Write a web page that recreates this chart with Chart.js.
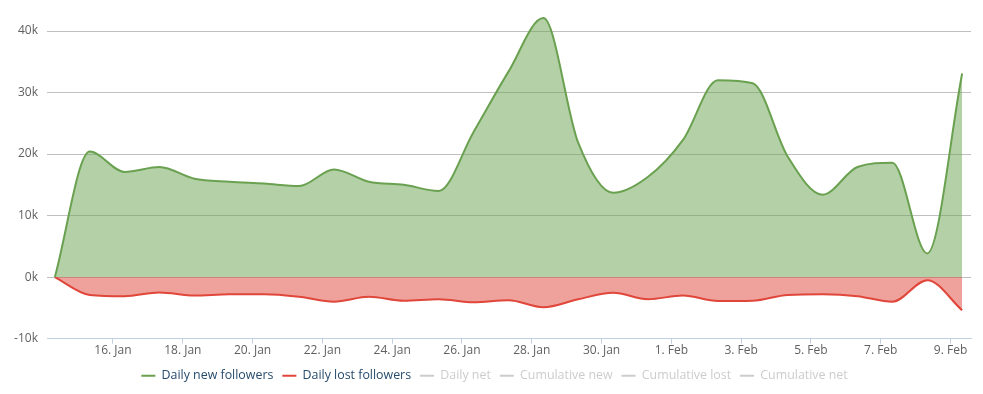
<!DOCTYPE html>
<html>
<head>
<meta charset="utf-8">
<script src="https://cdn.jsdelivr.net/npm/chart.js@4/dist/chart.umd.min.js"></script>
<style>
html,body{margin:0;padding:0;background:#fff;}
#wrap{width:983px;height:394px;}
</style>
</head>
<body>
<div id="wrap"><canvas id="c" width="983" height="394"></canvas></div>
<script>
// ---- data ----
const pointTimes = [
  '2015-01-14T08:00','2015-01-15T08:00','2015-01-16T08:00','2015-01-17T08:00','2015-01-18T08:00',
  '2015-01-19T08:00','2015-01-20T08:00','2015-01-21T08:00','2015-01-22T08:00','2015-01-23T08:00',
  '2015-01-24T08:00','2015-01-25T08:00','2015-01-26T08:00','2015-01-27T08:00','2015-01-28T08:00',
  '2015-01-29T08:00','2015-01-30T08:00','2015-01-31T08:00','2015-02-01T08:00','2015-02-02T08:00',
  '2015-02-03T08:00','2015-02-04T08:00','2015-02-05T08:00','2015-02-06T08:00','2015-02-07T08:00',
  '2015-02-08T08:00','2015-02-09T08:00'
];
const newFollowers = [0, 20400, 17100, 17900, 16000, 15500, 15200, 14800, 17500, 15500,
  15000, 14000, 23600, 33400, 42100, 21800, 13700, 16300, 22300, 32000,
  31500, 19600, 13400, 17900, 18600, 3850, 33100];
const lostFollowers = [0, -2900, -3100, -2500, -3000, -2800, -2800, -3200, -4000, -3200,
  -3850, -3600, -4100, -3750, -4900, -3600, -2550, -3600, -3000, -3900,
  -3850, -2900, -2800, -3100, -4000, -500, -5400];
const tickDates = ['2015-01-16','2015-01-18','2015-01-20','2015-01-22','2015-01-24','2015-01-26',
  '2015-01-28','2015-01-30','2015-02-01','2015-02-03','2015-02-05','2015-02-07','2015-02-09'];
const tickLabels = ['16. Jan','18. Jan','20. Jan','22. Jan','24. Jan','26. Jan','28. Jan',
  '30. Jan','1. Feb','3. Feb','5. Feb','7. Feb','9. Feb'];
const yTicks = [-10000, 0, 10000, 20000, 30000, 40000];
const seriesNames = ['Daily new followers','Daily lost followers','Daily net',
  'Cumulative new','Cumulative lost','Cumulative net'];

// ---- helpers ----
const EPOCH = Date.UTC(2015, 0, 0);
const toDay = s => (Date.parse(s + (s.length > 10 ? 'Z' : 'T00:00Z')) - EPOCH) / 86400000;
const xs = pointTimes.map(toDay);
const tickValues = tickDates.map(toDay);
const FONT = '"Open Sans", "Lucida Grande", "DejaVu Sans", sans-serif';

const GREEN = '#6aa150', RED = '#e0463a', HIDDEN = '#cccccc';

const datasets = [
  {label: seriesNames[0], data: xs.map((x,i)=>({x, y:newFollowers[i]})),
   borderColor: GREEN, backgroundColor: 'rgba(106,161,80,0.5)', fill: 'origin'},
  {label: seriesNames[1], data: xs.map((x,i)=>({x, y:lostFollowers[i]})),
   borderColor: RED, backgroundColor: 'rgba(224,70,58,0.5)', fill: 'origin'},
  {label: seriesNames[2], data: [], hidden: true, borderColor: HIDDEN},
  {label: seriesNames[3], data: [], hidden: true, borderColor: HIDDEN},
  {label: seriesNames[4], data: [], hidden: true, borderColor: HIDDEN},
  {label: seriesNames[5], data: [], hidden: true, borderColor: HIDDEN}
].map(d => Object.assign({borderWidth: 2, pointRadius: 0, pointHoverRadius: 0,
  cubicInterpolationMode: 'monotone', clip: 4}, d));

const legendShift = {
  id: 'legendShift',
  afterLayout(chart) { if (chart.legend) { chart.legend.left += 9; chart.legend.right += 9; } }
};

new Chart(document.getElementById('c'), {
  type: 'line',
  data: {datasets},
  plugins: [legendShift],
  options: {
    responsive: false,
    animation: false,
    layout: {padding: {left: 0, right: 12, top: 8, bottom: 2}},
    scales: {
      x: {
        type: 'linear',
        min: 14.109, max: 40.587,
        afterBuildTicks: s => { s.ticks = tickValues.map(v => ({value: v})); },
        afterFit: s => { s.height = 22; s.paddingLeft = 0; s.paddingRight = 0; },
        ticks: {
          callback: v => tickLabels[tickValues.indexOf(v)],
          color: '#606060', font: {family: FONT, size: 12},
          padding: 0, maxRotation: 0, autoSkip: false
        },
        grid: {drawOnChartArea: false, drawTicks: true, tickLength: 5, tickColor: '#C0D0E0'},
        border: {display: true, color: '#C0D0E0', width: 1}
      },
      y: {
        min: -10000, max: 43746,
        afterBuildTicks: s => { s.ticks = yTicks.map(v => ({value: v})); },
        afterFit: s => { s.width = 47; s.paddingTop = 0; s.paddingBottom = 0; },
        ticks: {
          callback: v => (v / 1000) + 'k',
          color: '#606060', font: {family: FONT, size: 12}, padding: 9
        },
        grid: {color: '#C0C0C0', drawTicks: false, lineWidth: 1},
        border: {display: false}
      }
    },
    plugins: {
      tooltip: {enabled: false},
      legend: {
        position: 'bottom',
        labels: {
          usePointStyle: true,
          pointStyleWidth: 14,
          padding: 9,
          font: {family: FONT, size: 12.4},
          generateLabels: chart => chart.data.datasets.map((ds, i) => ({
            text: ds.label,
            fillStyle: ds.hidden ? HIDDEN : ds.borderColor,
            strokeStyle: ds.hidden ? HIDDEN : ds.borderColor,
            lineWidth: 2,
            pointStyle: 'line',
            hidden: false,
            datasetIndex: i,
            fontColor: ds.hidden ? HIDDEN : '#274b6d'
          }))
        }
      }
    }
  }
});
</script>
</body>
</html>
